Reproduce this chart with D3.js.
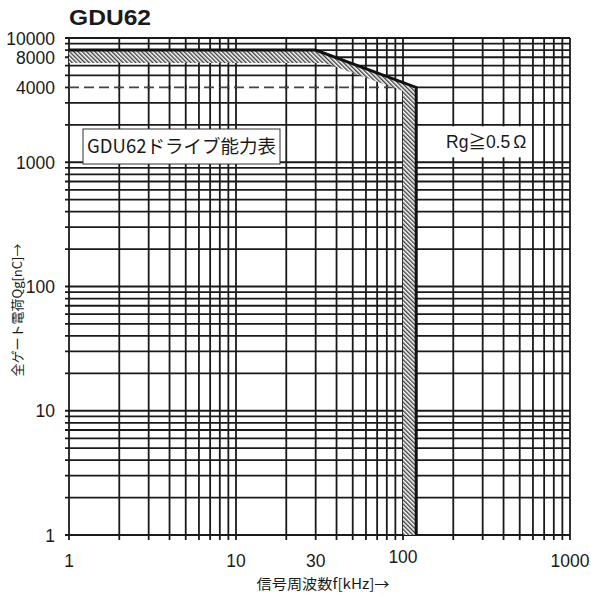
<!DOCTYPE html>
<html>
<head>
<meta charset="utf-8">
<script src="https://cdn.jsdelivr.net/npm/d3@7"></script>
<style>
  body { margin: 0; background: #fff; }
  svg { display: block; }
</style>
</head>
<body>
<svg class="chart"></svg>
<script>
// chart values
var title = "GDU62";
var xTickValues = [1, 10, 30, 100, 1000];
var yTickValues = [1, 10, 100, 1000, 4000, 8000, 10000];
// drive limit (outer edge) and inner edge of the hatched band, [kHz, nC]
var limitLine = [[1, 8000], [30, 8000], [120, 4000], [120, 1]];
var innerLine = [[1, 6300], [34, 6300], [100, 3750], [100, 1]];
var dashedLevel = 4000;
var dashedRange = [1, 100];
var boxLabel = "GDU62ドライブ能力表";
var rgLabel = ["Rg", "≧", "0.5", "Ω"];
var xTitle = "信号周波数f[kHz]→";
var yTitle = "全ゲート電荷Qg[nC]→";

var width = 591, height = 596;
var margin = {top: 38, right: 21, bottom: 61, left: 69};

var svg = d3.select(".chart")
    .attr("width", width)
    .attr("height", height);

var x = d3.scaleLog().domain([1, 1000]).range([margin.left, width - margin.right]);
var y = d3.scaleLog().domain([1, 10000]).range([height - margin.bottom, margin.top]);

var numFont = "'Liberation Sans', Arial, sans-serif";
var jpFont = "'Noto Sans CJK JP', sans-serif";
var gridColor = "#1a1a1a";

// grid values 1..10 per decade
var xGrid = [], yGrid = [];
for (var e = 0; e < 3; e++) for (var m = 1; m < 10; m++) xGrid.push(m * Math.pow(10, e));
xGrid.push(1000);
for (var e2 = 0; e2 < 4; e2++) for (var m2 = 1; m2 < 10; m2++) yGrid.push(m2 * Math.pow(10, e2));
yGrid.push(10000);

var grid = svg.append("g").attr("class", "grid")
    .attr("stroke", gridColor)
    .attr("stroke-width", 1.8);

grid.selectAll(".vline")
    .data(xGrid)
  .enter().append("line")
    .attr("class", "vline")
    .attr("x1", function(d) { return x(d); })
    .attr("x2", function(d) { return x(d); })
    .attr("y1", y(10000))
    .attr("y2", y(1) + 5);

grid.selectAll(".hline")
    .data(yGrid.filter(function(d) { return d !== dashedLevel; }))
  .enter().append("line")
    .attr("class", "hline")
    .attr("x1", x(1) - 4)
    .attr("x2", x(1000))
    .attr("y1", function(d) { return y(d); })
    .attr("y2", function(d) { return y(d); });

// 4000 line: solid beyond the limit, dashed inside
grid.append("line")
    .attr("x1", x(limitLine[2][0]))
    .attr("x2", x(1000))
    .attr("y1", y(dashedLevel))
    .attr("y2", y(dashedLevel));
grid.append("line")
    .attr("x1", x(1) - 4)
    .attr("x2", x(1))
    .attr("y1", y(dashedLevel))
    .attr("y2", y(dashedLevel));

svg.append("line")
    .attr("x1", x(dashedRange[0]))
    .attr("x2", x(dashedRange[1]))
    .attr("y1", y(dashedLevel))
    .attr("y2", y(dashedLevel))
    .attr("stroke", "#444")
    .attr("stroke-width", 1.7)
    .attr("stroke-dasharray", "10,5");

// redraw vertical lines over the dashed line
grid.selectAll(".vcross")
    .data(xGrid.filter(function(d) { return d > 1 && d < dashedRange[1]; }))
  .enter().append("line")
    .attr("x1", function(d) { return x(d); })
    .attr("x2", function(d) { return x(d); })
    .attr("y1", y(dashedLevel) - 2)
    .attr("y2", y(dashedLevel) + 2);

// label boxes
var box = svg.append("g");
box.append("rect")
    .attr("x", 83).attr("y", 129)
    .attr("width", 197).attr("height", 35)
    .attr("fill", "#fff")
    .attr("stroke", "#333")
    .attr("stroke-width", 1);
box.append("text")
    .attr("x", 181.5).attr("y", 153)
    .attr("text-anchor", "middle")
    .attr("font-family", jpFont)
    .attr("font-size", 18.5)
    .attr("fill", "#1a1a1a")
    .text(boxLabel);

svg.append("rect")
    .attr("x", 432).attr("y", y(2000) + 1.5)
    .attr("width", 99).attr("height", 31)
    .attr("fill", "#fff");
var rg = svg.append("text")
    .attr("x", 446).attr("y", 148)
    .attr("font-family", numFont)
    .attr("font-size", 17.5)
    .attr("fill", "#1a1a1a");
rg.selectAll("tspan")
    .data(rgLabel)
  .enter().append("tspan")
    .attr("font-family", function(d, i) { return i === 1 ? jpFont : numFont; })
    .attr("dx", function(d, i) { return i === 3 ? 3 : 0; })
    .text(function(d) { return d; });

// hatched band
var defs = svg.append("defs");
var pat = defs.append("pattern")
    .attr("id", "hatch")
    .attr("patternUnits", "userSpaceOnUse")
    .attr("width", 3).attr("height", 3)
    .attr("patternTransform", "rotate(-45)");
pat.append("rect").attr("width", 3).attr("height", 3).attr("fill", "#fff");
pat.append("line")
    .attr("x1", 0.75).attr("x2", 0.75)
    .attr("y1", 0).attr("y2", 3)
    .attr("stroke", "#1e1e1e")
    .attr("stroke-width", 1.2);

var line = d3.line()
    .x(function(d) { return x(d[0]); })
    .y(function(d) { return y(d[1]); });

var band = limitLine.concat(innerLine.slice().reverse());
svg.append("path")
    .attr("d", line(band) + "Z")
    .attr("fill", "url(#hatch)");

svg.append("path")
    .attr("d", line(limitLine))
    .attr("fill", "none")
    .attr("stroke", "#111")
    .attr("stroke-width", 3);

// tick labels
svg.selectAll(".ylab")
    .data(yTickValues)
  .enter().append("text")
    .attr("class", "ylab")
    .attr("x", 55)
    .attr("y", function(d) { return y(d) + (d === 8000 ? 14 : 6.5); })
    .attr("text-anchor", "end")
    .attr("font-family", numFont)
    .attr("font-size", 17.5)
    .attr("fill", "#1a1a1a")
    .text(function(d) { return d; });

svg.selectAll(".xlab")
    .data(xTickValues)
  .enter().append("text")
    .attr("class", "xlab")
    .attr("x", function(d) { return x(d); })
    .attr("y", function(d) { return d === 100 ? 563 : 567; })
    .attr("text-anchor", "middle")
    .attr("font-family", numFont)
    .attr("font-size", 17.5)
    .attr("fill", "#1a1a1a")
    .text(function(d) { return d; });

// titles
svg.append("text")
    .attr("x", 69).attr("y", 25)
    .attr("font-family", numFont)
    .attr("font-weight", "bold")
    .attr("font-size", 22)
    .attr("textLength", 82)
    .attr("lengthAdjust", "spacingAndGlyphs")
    .attr("fill", "#1a1a1a")
    .text(title);

svg.append("text")
    .attr("x", 323).attr("y", 589)
    .attr("text-anchor", "middle")
    .attr("font-family", jpFont)
    .attr("font-size", 14)
    .attr("textLength", 133)
    .attr("lengthAdjust", "spacingAndGlyphs")
    .attr("fill", "#1a1a1a")
    .text(xTitle);

svg.append("text")
    .attr("transform", "translate(22,310) rotate(-90)")
    .attr("text-anchor", "middle")
    .attr("font-family", jpFont)
    .attr("font-size", 13)
    .attr("fill", "#1a1a1a")
    .text(yTitle);
</script>
</body>
</html>
